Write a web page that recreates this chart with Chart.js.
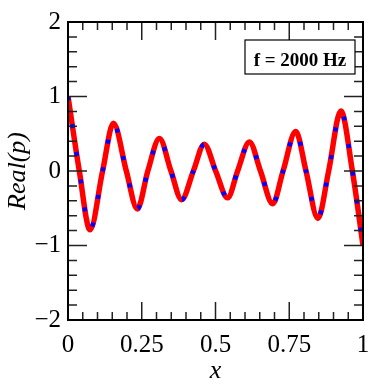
<!DOCTYPE html>
<html>
<head>
<meta charset="utf-8">
<script src="https://cdn.jsdelivr.net/npm/chart.js@4.4.0/dist/chart.umd.min.js"></script>
<style>
  html, body { margin: 0; padding: 0; background: #fff; }
  #wrap { width: 392px; height: 388px; }
</style>
</head>
<body>
<div id="wrap"><canvas id="c" width="392" height="388"></canvas></div>
<script>
// valores: extremos e cruzamentos do zero
const xs = [0, 0.0384, 0.0746, 0.1173, 0.154, 0.1977, 0.235, 0.2706, 0.31, 0.349, 0.385, 0.425,
  0.462, 0.5005, 0.541, 0.575, 0.615, 0.6525, 0.694, 0.729, 0.772, 0.8068, 0.847, 0.8836, 0.925, 0.964, 1];
const realP = [1, 0, -0.79, 0, 0.64, 0, -0.51, 0, 0.435, 0, -0.385, 0,
  0.36, 0, -0.36, 0, 0.39, 0, -0.44, 0, 0.53, 0, -0.636, 0, 0.805, 0, -1];

const xTicks = [0, 0.25, 0.5, 0.75, 1];
const xTickLabels = ["0", "0.25", "0.5", "0.75", "1"];
const xMinor = [0.05, 0.1, 0.15, 0.2, 0.3, 0.35, 0.4, 0.45, 0.55, 0.6, 0.65, 0.7, 0.8, 0.85, 0.9, 0.95];
const yTicks = [-2, -1, 0, 1, 2];
const yTickLabels = ["\u22122", "\u22121", "0", "1", "2"];
const yMinor = [-1.8, -1.6, -1.4, -1.2, -0.8, -0.6, -0.4, -0.2, 0.2, 0.4, 0.6, 0.8, 1.2, 1.4, 1.6, 1.8];

const legendText = "f = 2000 Hz";
const serif = "'Liberation Serif', 'Times New Roman', serif";

const points = xs.map((x, i) => ({ x, y: realP[i] }));

// ticks para dentro nos quatro lados, moldura e caixa da frequência
const frame = {
  id: "frame",
  afterDatasetsDraw(chart) {
    const { ctx, chartArea: a, scales: { x, y } } = chart;
    ctx.save();
    ctx.strokeStyle = "#222";
    const tickX = (vals, len) => {
      ctx.beginPath();
      vals.forEach(v => {
        const px = x.getPixelForValue(v);
        ctx.moveTo(px, a.bottom); ctx.lineTo(px, a.bottom - len);
        ctx.moveTo(px, a.top); ctx.lineTo(px, a.top + len);
      });
      ctx.stroke();
    };
    const tickY = (vals, len) => {
      ctx.beginPath();
      vals.forEach(v => {
        const py = y.getPixelForValue(v);
        ctx.moveTo(a.left, py); ctx.lineTo(a.left + len, py);
        ctx.moveTo(a.right, py); ctx.lineTo(a.right - len, py);
      });
      ctx.stroke();
    };
    ctx.lineWidth = 1.5;
    tickX(xMinor, 8);
    tickX(xTicks, 18);
    tickY(yMinor, 9);
    tickY(yTicks, 19);

    ctx.strokeStyle = "#000";
    ctx.lineWidth = 2;
    ctx.strokeRect(a.left, a.top, a.right - a.left, a.bottom - a.top);

    const bx = a.right - 118, by = a.top + 18, bw = 110, bh = 34;
    ctx.fillStyle = "#fff";
    ctx.fillRect(bx, by, bw, bh);
    ctx.lineWidth = 1.2;
    ctx.strokeRect(bx, by, bw, bh);
    ctx.fillStyle = "#000";
    ctx.font = "bold 19px " + serif;
    ctx.textAlign = "center";
    ctx.textBaseline = "alphabetic";
    ctx.fillText(legendText, bx + bw / 2, by + 26);
    ctx.restore();
  }
};

new Chart(document.getElementById("c"), {
  type: "line",
  data: {
    datasets: [
      {
        label: "blue",
        data: points,
        borderColor: "#0000FF",
        borderWidth: 4.5,
        borderDash: [4, 24],
        pointRadius: 0,
        fill: false,
        cubicInterpolationMode: "monotone",
        order: 0,
      },
      {
        label: "red",
        data: points,
        borderColor: "#FF0000",
        borderWidth: 5.5,
        pointRadius: 0,
        fill: false,
        cubicInterpolationMode: "monotone",
        order: 1,
      },
    ],
  },
  options: {
    responsive: false,
    animation: false,
    events: [],
    layout: { padding: { top: 13, right: 29, left: 0, bottom: 0 } },
    plugins: { legend: { display: false }, tooltip: { enabled: false } },
    scales: {
      x: {
        type: "linear",
        min: 0,
        max: 1,
        afterBuildTicks: s => { s.ticks = xTicks.map(v => ({ value: v })); },
        afterFit: s => { s.height = 68; },
        grid: { display: false, drawTicks: false },
        border: { display: false },
        ticks: {
          color: "#000",
          padding: 10,
          maxRotation: 0,
          font: { family: serif, size: 25 },
          callback: v => xTickLabels[xTicks.indexOf(v)],
        },
        title: {
          display: true,
          text: "x",
          color: "#000",
          font: { family: serif, size: 26, style: "italic" },
          padding: { top: 0, bottom: 1 },
        },
      },
      y: {
        type: "linear",
        min: -2,
        max: 2,
        afterBuildTicks: s => { s.ticks = yTicks.map(v => ({ value: v })); },
        afterFit: s => { s.width = 68; },
        grid: { display: false, drawTicks: false },
        border: { display: false },
        ticks: {
          color: "#000",
          padding: 7,
          font: { family: serif, size: 25 },
          callback: v => yTickLabels[yTicks.indexOf(v)],
        },
        title: {
          display: true,
          text: "Real(p)",
          color: "#000",
          font: { family: serif, size: 26, style: "italic" },
          padding: { top: 3, bottom: 0 },
        },
      },
    },
  },
  plugins: [frame],
});
</script>
</body>
</html>
